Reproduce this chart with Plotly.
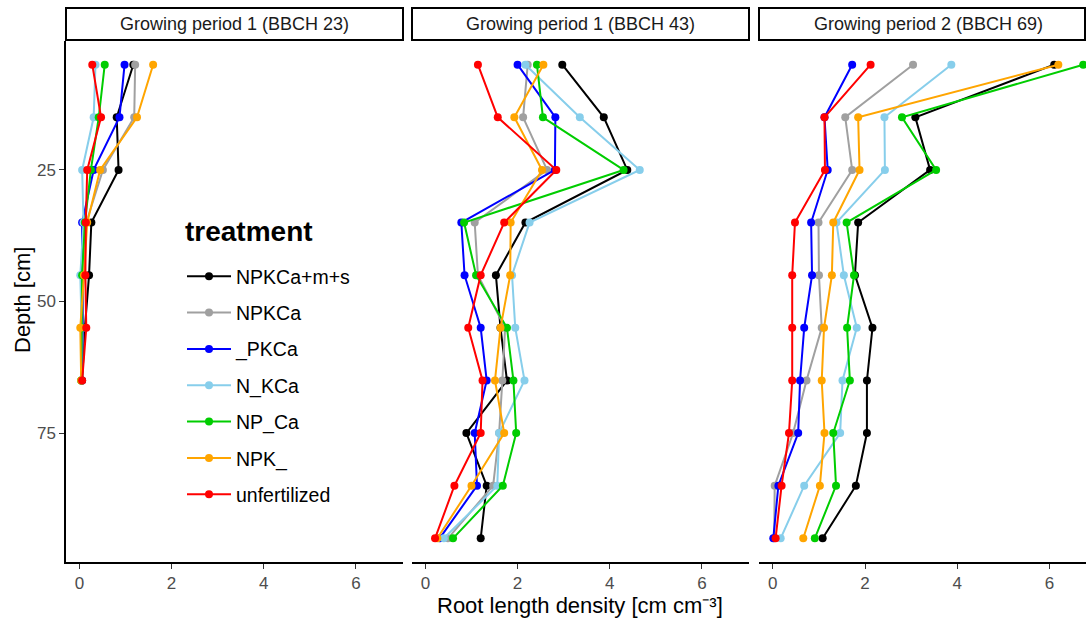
import plotly.graph_objects as go

# Soil depth (cm) of each sampling layer
depths = [5, 15, 25, 35, 45, 55, 65, 75, 85, 95]

treatments = ["NPKCa+m+s", "NPKCa", "_PKCa", "N_KCa", "NP_Ca", "NPK_", "unfertilized"]
colors = ["#000000", "#A0A0A0", "#0000FF", "#87CEEB", "#00CD00", "#FFA500", "#FF0000"]

panels = ["Growing period 1 (BBCH 23)", "Growing period 1 (BBCH 43)", "Growing period 2 (BBCH 69)"]

# Root length density [cm cm-3] per treatment, top layer first
rld_p1 = {
    "NPKCa+m+s":    [1.17, 0.81, 0.85, 0.26, 0.21, 0.12, 0.06],
    "NPKCa":        [1.21, 1.19, 0.51, 0.15, 0.08, 0.08, 0.05],
    "_PKCa":        [0.98, 0.87, 0.31, 0.06, 0.06, 0.07, 0.05],
    "N_KCa":        [0.35, 0.31, 0.06, 0.09, 0.02, 0.05, 0.04],
    "NP_Ca":        [0.55, 0.42, 0.25, 0.12, 0.06, 0.05, 0.04],
    "NPK_":         [1.60, 1.25, 0.45, 0.17, 0.10, 0.02, 0.04],
    "unfertilized": [0.28, 0.47, 0.17, 0.14, 0.13, 0.15, 0.06],
}
rld_p2 = {
    "NPKCa+m+s":    [2.97, 3.87, 4.38, 2.17, 1.53, 1.63, 1.77, 0.89, 1.33, 1.20],
    "NPKCa":        [2.22, 2.12, 2.64, 1.07, 1.14, 1.73, 1.67, 1.60, 1.47, 0.49],
    "_PKCa":        [2.00, 2.82, 2.81, 0.78, 0.85, 1.20, 1.33, 1.07, 1.12, 0.31],
    "N_KCa":        [2.17, 3.35, 4.65, 2.26, 1.88, 1.95, 2.15, 1.60, 1.56, 0.40],
    "NP_Ca":        [2.42, 2.55, 4.30, 0.84, 1.10, 1.77, 1.91, 1.97, 1.68, 0.60],
    "NPK_":         [2.56, 1.93, 2.53, 1.85, 1.84, 1.63, 1.51, 1.71, 1.00, 0.26],
    "unfertilized": [1.14, 1.57, 2.84, 1.71, 1.20, 0.93, 1.24, 1.20, 0.63, 0.21],
}
rld_p3 = {
    "NPKCa+m+s":    [6.10, 3.09, 3.41, 1.85, 1.78, 2.16, 2.04, 2.04, 1.80, 1.08],
    "NPKCa":        [3.04, 1.57, 1.72, 0.99, 1.00, 1.06, 0.73, 0.44, 0.04, 0.03],
    "_PKCa":        [1.72, 1.12, 1.19, 0.83, 0.85, 0.68, 0.59, 0.55, 0.12, 0.01],
    "N_KCa":        [3.87, 2.42, 2.43, 1.38, 1.54, 1.82, 1.51, 1.46, 0.68, 0.17],
    "NP_Ca":        [6.73, 2.80, 3.54, 1.60, 1.76, 1.61, 1.67, 1.31, 1.37, 0.91],
    "NPK_":         [6.19, 1.85, 1.88, 1.31, 1.28, 1.11, 1.06, 1.12, 1.02, 0.66],
    "unfertilized": [2.12, 1.12, 1.13, 0.48, 0.42, 0.42, 0.42, 0.35, 0.19, 0.06],
}
panel_data = [rld_p1, rld_p2, rld_p3]

x_ticks = [0, 2, 4, 6]
y_ticks = [25, 50, 75]

W, H = 1086, 618
FONT = "Liberation Sans, Arial, sans-serif"

# pixel layout of the three facets
px_dom = [(66, 403), (412, 749), (759, 1086)]
x_ranges = [[-0.29, 7.02], [-0.29, 7.02], [-0.30, 6.79]]
top_px, bot_px = 41, 562
y_dom = [1 - bot_px / H, 1 - top_px / H]

fig = go.Figure()

for p, data in enumerate(panel_data):
    xa = "x" if p == 0 else f"x{p + 1}"
    ya = "y" if p == 0 else f"y{p + 1}"
    for t, col in zip(treatments, colors):
        vals = data[t]
        fig.add_trace(go.Scatter(
            x=vals, y=depths[:len(vals)],
            mode="lines+markers",
            name=t, legendgroup=t, showlegend=(p == 0),
            line=dict(color=col, width=2),
            marker=dict(color=col, size=8),
            xaxis=xa, yaxis=ya, cliponaxis=False,
        ))

axis_common = dict(
    showgrid=False, zeroline=False,
    showline=True, linecolor="#000000", linewidth=1.5,
    ticks="outside", ticklen=5, tickcolor="#333333", tickwidth=1,
    tickfont=dict(family=FONT, size=17, color="#4D4D4D"),
)

layout = dict(
    width=W, height=H,
    margin=dict(l=0, r=0, t=0, b=0),
    paper_bgcolor="white", plot_bgcolor="white",
    font=dict(family=FONT),
    showlegend=True,
    legend=dict(
        x=182 / W, y=1 - 257 / H, xanchor="left", yanchor="top",
        font=dict(family=FONT, size=19.5, color="#000000"),
        tracegroupgap=8, itemwidth=44, bgcolor="rgba(0,0,0,0)",
    ),
)

for p in range(3):
    sfx = "" if p == 0 else str(p + 1)
    x0, x1 = px_dom[p]
    layout[f"xaxis{sfx}"] = dict(
        axis_common, domain=[x0 / W, x1 / W], range=x_ranges[p],
        tickvals=x_ticks, anchor=f"y{sfx}",
    )
    ya = dict(
        axis_common, domain=y_dom, range=[99.5, 0.5], tickvals=y_ticks,
        anchor=f"x{sfx}",
    )
    if p > 0:
        ya.update(showline=False, ticks="", showticklabels=False, matches="y")
    layout[f"yaxis{sfx}"] = ya

fig.update_layout(**layout)

# facet strips
shapes, annotations = [], []
strip_centers = [(66 + 403) / 2, (412 + 749) / 2, (759 + 1097) / 2]
for p, label in enumerate(panels):
    x0, x1 = px_dom[p]
    shapes.append(dict(
        type="rect", xref="paper", yref="paper",
        x0=x0 / W, x1=min(x1, W - 1) / W, y0=1 - 40 / H, y1=1 - 8 / H,
        line=dict(color="#000000", width=2), fillcolor="white",
    ))
    annotations.append(dict(
        xref="paper", yref="paper", x=strip_centers[p] / W,
        y=1 - 24 / H, text=label, showarrow=False,
        font=dict(family=FONT, size=18, color="#1A1A1A"), xanchor="center", yanchor="middle",
    ))

# axis titles
annotations.append(dict(
    xref="paper", yref="paper", x=580 / W, y=1 - 605 / H,
    text="Root length density [cm cm⁻³]", showarrow=False,
    font=dict(family=FONT, size=22, color="#000000"), xanchor="center", yanchor="middle",
))
annotations.append(dict(
    xref="paper", yref="paper", x=22 / W, y=1 - 300 / H,
    text="Depth [cm]", showarrow=False, textangle=-90,
    font=dict(family=FONT, size=22, color="#000000"), xanchor="center", yanchor="middle",
))

# legend heading
annotations.append(dict(
    xref="paper", yref="paper", x=183 / W, y=1 - 231 / H,
    text="<b>treatment</b>", showarrow=False,
    font=dict(family=FONT, size=28, color="#000000"), xanchor="left", yanchor="middle",
))

fig.update_layout(shapes=shapes, annotations=annotations)

fig.write_html("out.html")
